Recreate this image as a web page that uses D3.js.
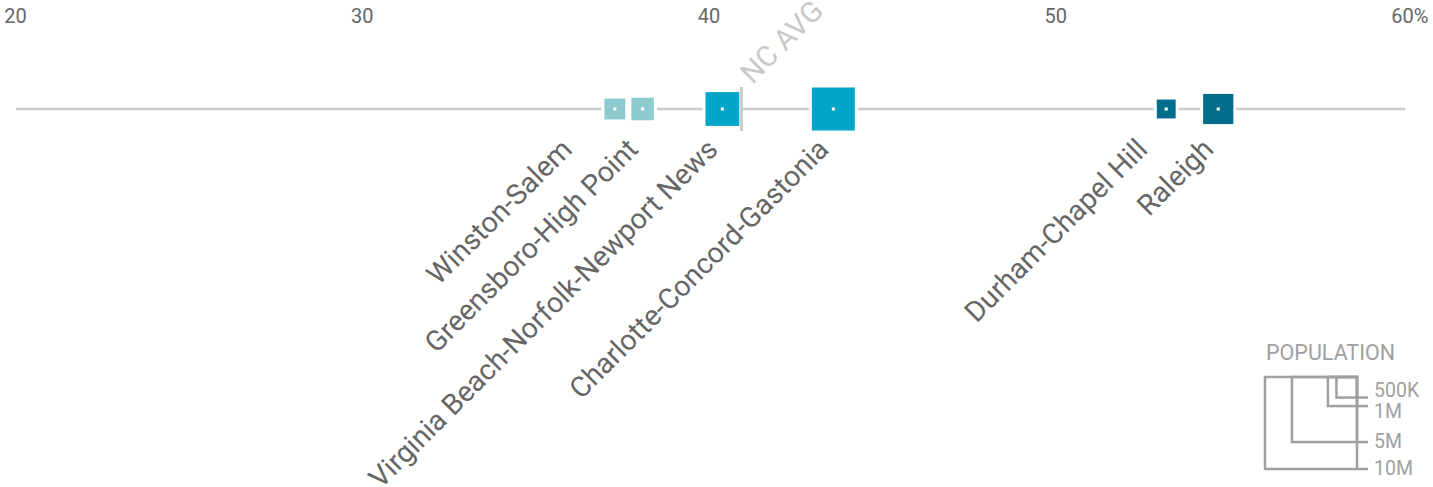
<!DOCTYPE html>
<html>
<head>
<meta charset="utf-8">
<script src="https://cdn.jsdelivr.net/npm/d3@7"></script>
<style>
	body { margin: 0; background: #fff; }
	svg { display: block; font-family: Roboto, "Liberation Sans", sans-serif; }
</style>
</head>
<body>
<script>
/* Share of adults by metro area, square area = population. */
var metros = ["Winston-Salem", "Greensboro-High Point", "Virginia Beach-Norfolk-Newport News",
	"Charlotte-Concord-Gastonia", "Durham-Chapel Hill", "Raleigh"];
var shares = [37.3, 38.1, 40.4, 43.6, 53.2, 54.7];
var populations = [676000, 771000, 1600000, 2500000, 565000, 1300000];
var groups = ["low", "low", "mid", "mid", "high", "high"];
var ncAvg = 40.95;
var ticks = [20, 30, 40, 50, 60];
var legendPops = [500000, 1000000, 5000000, 10000000];
var legendLabels = ["500K", "1M", "5M", "10M"];

var fullWidth = 1433, fullHeight = 487;
var lineY = 109;

var color = d3.scaleOrdinal()
	.domain(["low", "mid", "high"])
	.range(["#8ecbd0", "#00a6c8", "#006d8c"]);

var xScale = d3.scaleLinear().domain([20, 60]).range([15, 1402]);
var side = d3.scaleSqrt().domain([0, 10000000]).range([0, 92]);

var svg = d3.select("body").append("svg")
	.attr("width", fullWidth)
	.attr("height", fullHeight);

// tick labels along the top
var xAxis = d3.axisTop(xScale)
	.tickValues(ticks)
	.tickSize(0)
	.tickPadding(0)
	.tickFormat(d3.format("d"));

var axisG = svg.append("g")
	.attr("transform", "translate(0,23)")
	.call(xAxis);
axisG.select(".domain").remove();
axisG.selectAll("text")
	.attr("y", 0)
	.attr("dy", 0)
	.style("font-family", "Roboto, sans-serif")
	.style("font-size", "20px")
	.style("fill", "#666");
axisG.selectAll(".tick").filter(function(d) { return d === 60; })
	.select("text")
	.each(function() {
		var w = this.getComputedTextLength();
		d3.select(this.parentNode).append("text")
			.attr("x", w / 2)
			.attr("y", 0)
			.style("font-family", "Roboto, sans-serif")
			.style("font-size", "20px")
			.style("fill", "#666")
			.style("text-anchor", "start")
			.text("%");
	});

// main line
svg.append("line")
	.attr("x1", xScale(20) + 1)
	.attr("x2", xScale(60) + 3)
	.attr("y1", lineY)
	.attr("y2", lineY)
	.style("stroke", "#cccccc")
	.style("stroke-width", 2.7);

var data = metros.map(function(m, i) {
	return {name: m, share: shares[i], pop: populations[i], group: groups[i]};
});

svg.selectAll(".metro")
	.data(data)
	.enter().append("rect")
		.attr("class", "metro")
		.attr("x", function(d) { return xScale(d.share) - side(d.pop) / 2; })
		.attr("y", function(d) { return lineY - side(d.pop) / 2; })
		.attr("width", function(d) { return side(d.pop); })
		.attr("height", function(d) { return side(d.pop); })
		.style("fill", function(d) { return color(d.group); })
		.style("stroke", "#fff")
		.style("stroke-width", 3);

svg.selectAll(".dot")
	.data(data)
	.enter().append("rect")
		.attr("class", "dot")
		.attr("x", function(d) { return xScale(d.share) - 1.5; })
		.attr("y", lineY - 1.5)
		.attr("width", 3)
		.attr("height", 3)
		.style("fill", "#fff");

// NC average marker
svg.append("line")
	.attr("x1", xScale(ncAvg))
	.attr("x2", xScale(ncAvg))
	.attr("y1", lineY - 22)
	.attr("y2", lineY + 22)
	.style("stroke", "#cccccc")
	.style("stroke-width", 3);
svg.append("text")
	.attr("transform", "translate(" + (xScale(ncAvg) + 11) + "," + (lineY - 24) + ") rotate(-45)")
	.style("font-size", "29px")
	.style("fill", "#c8c8c8")
	.text("NC AVG");

// label anchors, pushed left where they would collide
var anchors = data.map(function(d) { return xScale(d.share) - 3; });
for (var i = anchors.length - 2; i >= 0; i--) {
	anchors[i] = Math.min(anchors[i], anchors[i + 1] - 66);
}

svg.selectAll(".label")
	.data(data)
	.enter().append("text")
		.attr("class", "label")
		.attr("transform", function(d, i) {
			return "translate(" + anchors[i] + "," + (lineY + 42) + ") rotate(-45)";
		})
		.style("text-anchor", "end")
		.style("font-size", "28.5px")
		.style("fill", "#666")
		.text(function(d) { return d.name; });

// population legend
var legX = 1357, legY = 377, legLineEnd = 1368;
var legend = svg.append("g").attr("class", "legend");

legend.append("text")
	.attr("x", legX - side(10000000) + 1)
	.attr("y", legY - 17)
	.style("font-size", "21.5px")
	.style("fill", "#a0a0a0")
	.text("POPULATION");

legend.selectAll(".leg-sq")
	.data(legendPops)
	.enter().append("rect")
		.attr("class", "leg-sq")
		.attr("x", function(d) { return legX - side(d); })
		.attr("y", legY)
		.attr("width", function(d) { return side(d); })
		.attr("height", function(d) { return side(d); })
		.style("fill", "none")
		.style("stroke", "#a0a0a0")
		.style("stroke-width", 2.5);

legend.selectAll(".leg-line")
	.data(legendPops)
	.enter().append("line")
		.attr("class", "leg-line")
		.attr("x1", legX)
		.attr("x2", legLineEnd)
		.attr("y1", function(d) { return legY + side(d); })
		.attr("y2", function(d) { return legY + side(d); })
		.style("stroke", "#a0a0a0")
		.style("stroke-width", 2.5);

// spread the legend labels so they don't overlap
var minGap = 21;
var labelYs = legendPops.map(function(d) { return legY + side(d); });
for (var k = 0; k < 5; k++) {
	for (var j = 0; j < labelYs.length - 1; j++) {
		var gap = labelYs[j + 1] - labelYs[j];
		if (gap < minGap) {
			var push = (minGap - gap) / 2;
			labelYs[j] -= push;
			labelYs[j + 1] += push;
		}
	}
}

legend.selectAll(".leg-text")
	.data(legendPops)
	.enter().append("text")
		.attr("class", "leg-text")
		.attr("x", legLineEnd + 6)
		.attr("y", function(d, i) { return labelYs[i] - 1; })
		.attr("dy", "0.35em")
		.style("font-size", "19.5px")
		.style("fill", "#a0a0a0")
		.text(function(d, i) { return legendLabels[i]; });
</script>
</body>
</html>
